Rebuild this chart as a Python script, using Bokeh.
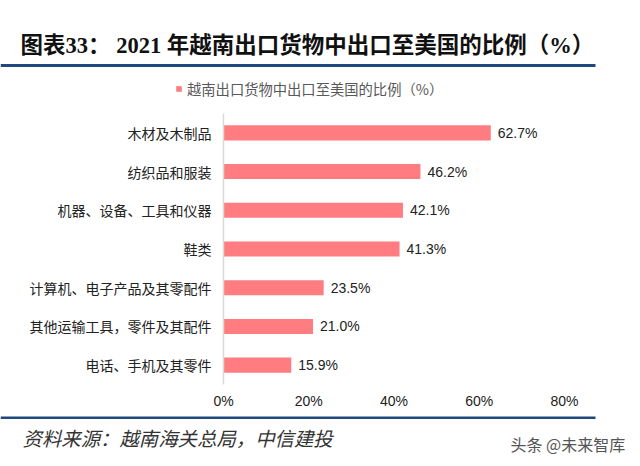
from bokeh.plotting import figure
from bokeh.layouts import column
from bokeh.models import (ColumnDataSource, Label, LabelSet, BoxAnnotation,
                          FixedTicker, FactorRange, Legend, LegendItem)
from bokeh.core.properties import value
from bokeh.embed import file_html
from bokeh.resources import INLINE

# ---- data ----
categories = ["木材及木制品", "纺织品和服装", "机器、设备、工具和仪器", "鞋类",
              "计算机、电子产品及其零配件", "其他运输工具，零件及其配件", "电话、手机及其零件"]
values = [62.7, 46.2, 42.1, 41.3, 23.5, 21.0, 15.9]
x_ticks = [0, 20, 40, 60, 80]
x_tick_labels = ["0%", "20%", "40%", "60%", "80%"]
series_name = "越南出口货物中出口至美国的比例（%）"
title_text = "图表33：  2021 年越南出口货物中出口至美国的比例（%）"
source_text = "资料来源：越南海关总局，中信建投"
watermark_text = "头条 @未来智库"

BAR = "#FF7C80"
NAVY = "#1F497D"
CJK = "'Noto Sans CJK SC'"
SANS = "'Liberation Sans', 'Noto Sans CJK SC'"
W = 640
NAN = float("nan")


def blank_fig(h):
    f = figure(width=W, height=h, output_backend="svg", toolbar_location=None,
               x_range=(0, W), y_range=(0, h), x_axis_location=None,
               y_axis_location=None, min_border=0, frame_align=False)
    f.min_border_left = f.min_border_right = f.min_border_top = f.min_border_bottom = 0
    f.outline_line_color = None
    f.xgrid.visible = False
    f.ygrid.visible = False
    f.background_fill_color = "white"
    f.border_fill_color = "white"
    return f


# ---- header: title, rule, legend ----
top = blank_fig(105)
top.add_layout(Label(x=20, y=60, text=title_text,
                     text_font="'Liberation Serif', 'Noto Sans CJK SC'",
                     text_font_style="bold", text_font_size="22.5px",
                     text_color="#111111", text_baseline="middle"))
top.add_layout(BoxAnnotation(left=0, right=595, bottom=38.5, top=41.5,
                             fill_color=NAVY, fill_alpha=1, line_color=None))
# legend swatch renderer (no visible data; same style as the bars)
legend_glyph = top.hbar(y=[NAN], right=[NAN], left=[NAN], height=0.4,
                        fill_color=BAR, line_color=None)
leg = Legend(items=[LegendItem(label=series_name, renderers=[legend_glyph])],
             location=(175, 6), padding=0, margin=0, border_line_color=None,
             background_fill_alpha=0, glyph_width=7, glyph_height=7,
             label_standoff=5, label_text_font=CJK, label_text_font_size="14.3px",
             label_text_color="#595959")
top.add_layout(leg)

# ---- main chart ----
src = ColumnDataSource(dict(
    cat=categories,
    val=values,
    lbl=[f"{v:.1f}%" for v in values],
))

p = figure(width=W, height=307, output_backend="svg", toolbar_location=None,
           x_range=(0, 80), y_range=FactorRange(factors=list(reversed(categories))),
           min_border_left=223, min_border_right=76, min_border_top=8,
           min_border_bottom=28, frame_align=False)
p.outline_line_color = None
p.background_fill_color = "white"
p.border_fill_color = "white"
p.xgrid.visible = False
p.ygrid.visible = False

p.hbar(y="cat", right="val", left=0, height=0.39, fill_color=BAR, line_color=None,
       source=src)

p.add_layout(LabelSet(x="val", y="cat", text="lbl", source=src, x_offset=7,
                      text_baseline="middle", text_font=value("Liberation Sans"),
                      text_font_size="14px", text_color="#222222"))

xa = p.xaxis[0]
xa.ticker = FixedTicker(ticks=x_ticks)
xa.major_label_overrides = {t: l for t, l in zip(x_ticks, x_tick_labels)}
xa.axis_line_color = None
xa.major_tick_line_color = None
xa.minor_tick_line_color = None
xa.major_tick_out = 0
xa.major_label_standoff = 8
xa.major_label_text_font = SANS
xa.major_label_text_font_size = "14px"
xa.major_label_text_color = "#222222"

ya = p.yaxis[0]
ya.axis_line_color = "#D9D9D9"
ya.axis_line_width = 1.5
ya.major_tick_line_color = None
ya.minor_tick_line_color = None
ya.major_tick_out = 0
ya.major_label_standoff = 12
ya.major_label_text_font = CJK
ya.major_label_text_font_size = "14px"
ya.major_label_text_color = "#222222"

# ---- footer: rule, source, watermark ----
bot = blank_fig(54)
bot.add_layout(BoxAnnotation(left=0, right=595, bottom=47.5, top=50,
                             fill_color=NAVY, fill_alpha=1, line_color=None))
bot.add_layout(Label(x=22, y=29, text=source_text, text_font=CJK,
                     text_font_style="italic", text_font_size="19.4px",
                     text_color="#333333", text_baseline="middle"))
bot.add_layout(Label(x=510, y=23, text=watermark_text, text_font=CJK,
                     text_font_size="16px", text_color="#555555",
                     text_baseline="middle"))

layout = column(top, p, bot, spacing=0)
open("out.html", "w").write(file_html(layout, INLINE))
